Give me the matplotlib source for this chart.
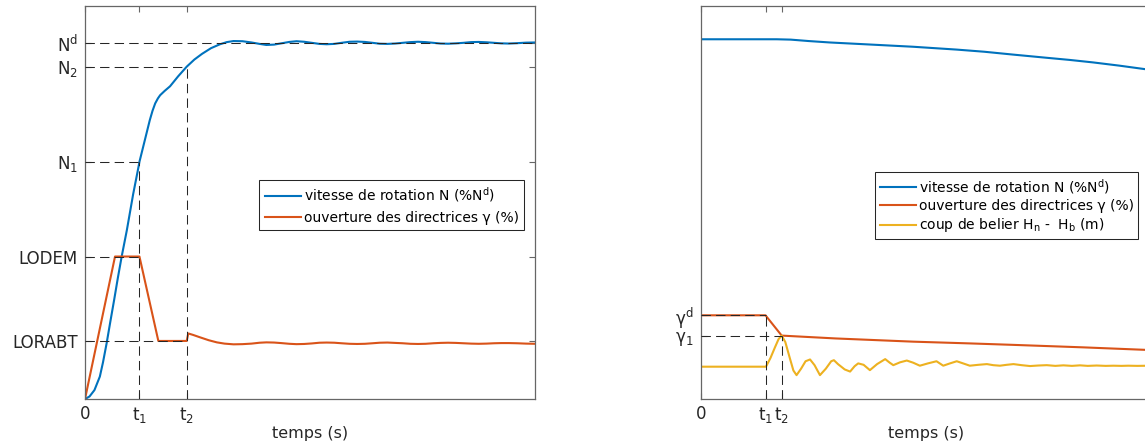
import matplotlib.pyplot as plt

# couleurs matlab par defaut
c_bleu = "#0072BD"
c_rouge = "#D95319"
c_jaune = "#EDB120"

# --- demarrage (gauche) ---
t1_g = 12.1
t2_g = 22.6
N_d = 100.0
N_2 = 93.3
N_1 = 66.6
LODEM = 40.0
LORABT = 16.3

t_N_g = [0, 1.0, 2.1, 3.3, 4.0, 4.8, 5.6, 6.5, 7.3, 8.15, 9.3, 10.7, 11.85, 12.1, 13.3, 14.4,
         15.0, 15.6, 16.2, 16.7, 17.7, 18.9, 20.7, 22.6, 24.3, 26.0, 28.0, 30.0, 31.5, 33.0,
         35.0, 37.0, 38.8, 40.3, 42.0, 43.6, 45.4, 47.0, 48.7, 50.4, 52.1, 53.7, 55.4, 57.0,
         58.8, 60.5, 62.2, 63.9, 65.5, 67.2, 68.9, 70.6, 72.3, 74.0, 75.7, 77.4, 79.0, 80.7,
         82.4, 84.1, 85.8, 87.5, 89.2, 90.9, 92.5, 94.2, 96.0, 98.0, 100]
N_g = [0, 0.7, 2.5, 6.3, 10.3, 15.6, 21.5, 28.0, 34.0, 40.0, 47.4, 57.5, 64.9, 66.6, 72.7, 78.3,
       80.9, 83.0, 84.4, 85.3, 86.5, 87.8, 90.6, 93.3, 95.3, 96.9, 98.5, 99.6, 100.2, 100.5,
       100.45, 100.1, 99.7, 99.4, 99.5, 99.85, 100.25, 100.45, 100.3, 100.0, 99.7, 99.6, 99.7,
       100.0, 100.3, 100.35, 100.25, 100.0, 99.75, 99.7, 99.8, 100.0, 100.2, 100.3, 100.2, 100.0,
       99.8, 99.75, 99.85, 100.0, 100.2, 100.25, 100.15, 100.0, 99.85, 99.8, 99.9, 100.05, 100.1]

t_gam_g = [0, 6.67, 12.1, 16.3, 22.6, 22.95, 24.0, 25.6, 27.5, 29.3, 31.0, 33.0, 35.0, 37.0,
           38.8, 40.3, 42.0, 43.6, 45.4, 47.0, 48.7, 50.4, 52.1, 53.7, 55.4, 57.0, 58.8, 60.5,
           62.2, 63.9, 65.5, 67.2, 68.9, 70.6, 72.3, 74.0, 75.7, 77.4, 79.0, 80.7, 82.4, 84.1,
           85.8, 87.5, 89.2, 90.9, 92.5, 94.2, 96.0, 98.0, 100]
gam_g = [0, 40.0, 40.0, 16.3, 16.3, 18.4, 18.0, 17.3, 16.5, 15.9, 15.55, 15.35, 15.4, 15.55,
         15.8, 15.9, 15.85, 15.7, 15.5, 15.4, 15.45, 15.6, 15.8, 15.85, 15.8, 15.65, 15.5, 15.45,
         15.5, 15.65, 15.8, 15.85, 15.75, 15.65, 15.5, 15.45, 15.5, 15.65, 15.75, 15.8, 15.75,
         15.65, 15.55, 15.5, 15.55, 15.65, 15.7, 15.7, 15.65, 15.55, 15.5]

# --- fermeture (droite) ---
t1_d = 14.4
t2_d = 18.0
gam_dem = 23.5
gam_1 = 17.8

t_N_d = [0, 16.9, 20.0, 24.0, 28.7, 38.0, 47.2, 56.9, 63.0, 69.4, 76.9, 82.0, 87.2, 93.0, 98.8, 100]
N_dr = [101.0, 101.0, 100.9, 100.5, 100.1, 99.5, 98.9, 98.1, 97.5, 96.7, 95.8, 95.2, 94.5, 93.6,
        92.6, 92.3]

t_gam_d = [0, 14.4, 18.0, 30.0, 47.2, 60.0, 69.4, 85.0, 98.8, 100]
gam_d = [23.5, 23.5, 17.8, 17.0, 16.1, 15.6, 15.2, 14.5, 13.8, 13.7]

t_H = [0, 14.5, 15.5, 16.5, 17.3, 18.0, 18.8, 19.8, 20.6, 21.3, 22.3, 23.3, 24.3, 25.3, 26.5,
       27.8, 29.0, 29.6, 30.5, 31.0, 32.0, 33.2, 34.2, 35.0, 36.2, 37.6, 39.2, 41.0, 42.0, 42.8,
       44.3, 45.8, 47.2, 48.7, 50.5, 52.4, 53.9, 55.4, 56.9, 58.3, 59.8, 61.7, 63.6, 65.0, 66.5,
       68.0, 69.5, 71.3, 73.2, 75.0, 76.9, 78.8, 80.6, 82.5, 84.3, 86.0, 88.0, 90.0, 91.7, 93.5,
       95.0, 97.0, 100]
H = [9.07, 9.07, 11.5, 14.5, 16.8, 17.8, 16.0, 11.5, 8.0, 6.7, 8.5, 10.6, 11.1, 9.5, 6.7,
     8.5, 10.6, 10.9, 9.8, 9.3, 8.3, 7.7, 9.2, 10.0, 9.6, 8.1, 9.8, 11.2, 10.2, 9.5,
     10.3, 10.8, 10.2, 9.35, 10.0, 10.6, 9.35, 10.0, 10.6, 10.0, 9.35, 9.6, 9.8, 9.5, 9.35,
     9.6, 9.8, 9.5, 9.25, 9.4, 9.5, 9.3, 9.45, 9.3, 9.45, 9.3, 9.4, 9.3, 9.35, 9.3,
     9.35, 9.3, 9.35]

plt.rcParams["font.family"] = ["DejaVu Sans"]
plt.rcParams["mathtext.default"] = "regular"

fig = plt.figure(figsize=(11.45, 4.48), dpi=100)
ax1 = fig.add_axes([85 / 1145, 49 / 448, 450 / 1145, 392.5 / 448])
ax2 = fig.add_axes([700.7 / 1145, 49 / 448, 450 / 1145, 392.5 / 448])

tirets = dict(color="0.15", lw=0.75, dashes=(9, 5), zorder=5)


def habiller(ax):
    ax.set_xlim(0, 100)
    ax.set_ylim(0, 110.2)
    for s in ax.spines.values():
        s.set_color("0.4")
        s.set_linewidth(0.9)
    ax.tick_params(direction="in", length=4, width=0.8, color="0.4", top=True, right=True,
                   labelsize=12, labelcolor="0.15")
    ax.tick_params(axis="y", pad=5)
    ax.tick_params(axis="x", pad=4)
    ax.set_xlabel("temps (s)", fontsize=11.5, color="0.15", labelpad=1)


# gauche
ax1.plot(t_N_g, N_g, color=c_bleu, lw=1.5, label="vitesse de rotation N (%N$^{d}$)")
ax1.plot(t_gam_g, gam_g, color=c_rouge, lw=1.5, label="ouverture des directrices γ (%)")
ax1.plot([0, 100], [N_d, N_d], **tirets)
ax1.plot([0, t2_g], [N_2, N_2], **tirets)
ax1.plot([0, t1_g], [N_1, N_1], **tirets)
ax1.plot([0, t1_g], [LODEM, LODEM], **tirets)
ax1.plot([0, t2_g], [LORABT, LORABT], **tirets)
ax1.plot([t1_g, t1_g], [0, N_1], **tirets)
ax1.plot([t2_g, t2_g], [0, N_2], **tirets)
habiller(ax1)
ax1.set_xticks([0, t1_g, t2_g], ["0", "t$_1$", "t$_2$"])
ax1.set_yticks([LORABT, LODEM, N_1, N_2, N_d], ["LORABT", "LODEM", "N$_1$", "N$_2$", "N$^d$"])
ax1.legend(loc="upper left", bbox_to_anchor=(0.387, 0.558), fontsize=10, frameon=True,
           fancybox=False, edgecolor="0.15", framealpha=1, handlelength=2.6, handletextpad=0.2,
           borderpad=0.4, labelspacing=0.45, borderaxespad=0).get_frame().set_linewidth(0.75)

# droite
ax2.plot(t_N_d, N_dr, color=c_bleu, lw=1.5, label="vitesse de rotation N (%N$^{d}$)")
ax2.plot(t_gam_d, gam_d, color=c_rouge, lw=1.5, label="ouverture des directrices γ (%)")
ax2.plot(t_H, H, color=c_jaune, lw=1.5, label="coup de belier H$_n$ -  H$_b$ (m)")
ax2.plot([0, t1_d], [gam_dem, gam_dem], **tirets)
ax2.plot([0, t2_d], [gam_1, gam_1], **tirets)
ax2.plot([t1_d, t1_d], [0, gam_dem], **tirets)
ax2.plot([t2_d, t2_d], [0, gam_1], **tirets)
habiller(ax2)
ax2.set_xticks([0, t1_d, t2_d], ["0", "t$_1$", "t$_2$"])
ax2.set_yticks([gam_1, gam_dem], ["γ$_1$", "γ$^d$"])
ax2.legend(loc="upper left", bbox_to_anchor=(0.387, 0.579), fontsize=10, frameon=True,
           fancybox=False, edgecolor="0.15", framealpha=1, handlelength=2.6, handletextpad=0.2,
           borderpad=0.35, labelspacing=0.25, borderaxespad=0).get_frame().set_linewidth(0.75)

fig.savefig("out.png", dpi=100)
